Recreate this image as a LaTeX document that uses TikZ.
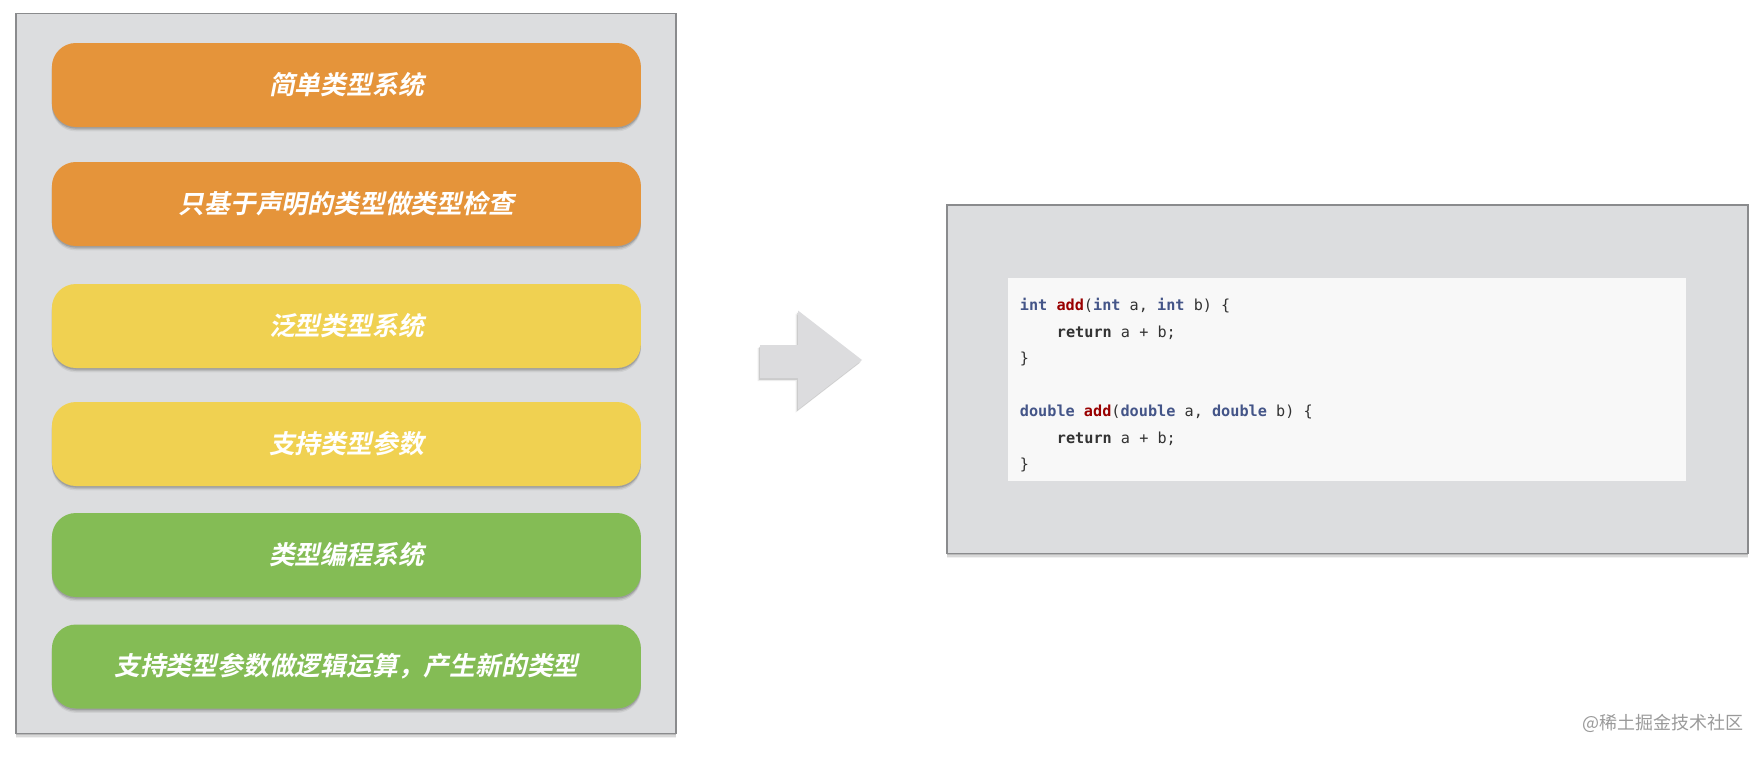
\documentclass[tikz,border=0pt]{standalone}
\usepackage{fontspec}
\setmonofont{DejaVu Sans Mono}
\newfontfamily\cjkb{Noto Sans CJK SC}[UprightFont=* Bold, FakeSlant=0.2]
\newfontfamily\cjk{Noto Sans CJK SC}
\usetikzlibrary{shadows}
\definecolor{panelgray}{HTML}{DCDDDF}
\definecolor{panelline}{HTML}{8A8B8D}
\definecolor{boxorange}{HTML}{E5943A}
\definecolor{boxyellow}{HTML}{F0D151}
\definecolor{boxgreen}{HTML}{84BC55}
\definecolor{codebg}{HTML}{F8F8F8}
\definecolor{codetext}{HTML}{333333}
\definecolor{codetype}{HTML}{445588}
\definecolor{codefunc}{HTML}{990000}
\definecolor{arrowgray}{HTML}{DCDCDE}
\definecolor{markgray}{HTML}{9A9A9A}
\newcommand{\kwtype}[1]{\textcolor{codetype}{\bfseries #1}}
\newcommand{\kwfunc}[1]{\textcolor{codefunc}{\bfseries #1}}
\newcommand{\kwbold}[1]{\textcolor{codetext}{\bfseries #1}}
\begin{document}
\begin{tikzpicture}[x=0.5pt,y=-0.5pt,
  softshadow/.style={
    drop shadow={shadow xshift=0pt, shadow yshift=-2.2pt, shadow scale=1.0, opacity=0.06, fill=black},
    drop shadow={shadow xshift=0pt, shadow yshift=-1.5pt, opacity=0.10, fill=black},
    drop shadow={shadow xshift=0pt, shadow yshift=-0.8pt, opacity=0.14, fill=black}},
  panel/.style={draw=panelline, line width=0.6pt, fill=panelgray, inner sep=0pt, softshadow},
  item/.style={rounded corners=12pt, minimum width=294.5pt, minimum height=42pt, inner sep=0pt,
    text=white, font=\cjkb\fontsize{12.9pt}{14pt}\selectfont, softshadow},
  codeline/.style={anchor=west, inner sep=0pt, text=codetext, text height=5.6pt, text depth=1.6pt,
    font=\ttfamily\fontsize{7.6pt}{9pt}\selectfont}
]
\useasboundingbox (0,0) rectangle (1764,756);
% left panel
\node[panel, minimum width=330pt, minimum height=360pt] (lp) at (346,373.5) {};
\node[item, fill=boxorange] (b1) at (346.4,85) {简单类型系统};
\node[item, fill=boxorange] (b2) at (346.4,204) {只基于声明的类型做类型检查};
\node[item, fill=boxyellow] (b3) at (346.4,326) {泛型类型系统};
\node[item, fill=boxyellow] (b4) at (346.4,444) {支持类型参数};
\node[item, fill=boxgreen] (b5) at (346.4,555) {类型编程系统};
\node[item, fill=boxgreen] (b6) at (346.4,666.5) {支持类型参数做逻辑运算，产生新的类型};
% arrow
\fill[arrowgray,
  drop shadow={shadow xshift=-1.2pt, shadow yshift=-1.6pt, opacity=0.07, fill=black},
  drop shadow={shadow xshift=-0.6pt, shadow yshift=-0.9pt, opacity=0.14, fill=black}]
  (760,345) -- (798,345) -- (798,310.5) -- (862,360) -- (798,409.5) -- (798,378) -- (760,378) -- cycle;
% right panel
\node[panel, minimum width=400.5pt, minimum height=174.25pt] (rp) at (1347.5,379.25) {};
\node[fill=codebg, inner sep=0pt, minimum width=339pt, minimum height=101.5pt] (cb) at (1346.5,379.5) {};
\node[codeline] (c1) at (1019.5,306) {\kwtype{int} \kwfunc{add}(\kwtype{int} a, \kwtype{int} b) \{};
\node[codeline] (c2) at (1056.5,333) {\kwbold{return} a + b;};
\node[codeline] (c3) at (1019.5,359) {\}};
\node[codeline] (c4) at (1019.5,412) {\kwtype{double} \kwfunc{add}(\kwtype{double} a, \kwtype{double} b) \{};
\node[codeline] (c5) at (1056.5,439) {\kwbold{return} a + b;};
\node[codeline] (c6) at (1019.5,465) {\}};
% watermark
\node[anchor=east, inner sep=0pt, text=markgray, font=\cjk\fontsize{9pt}{10pt}\selectfont] (wm) at (1744,723) {@稀土掘金技术社区};
\end{tikzpicture}
\end{document}
